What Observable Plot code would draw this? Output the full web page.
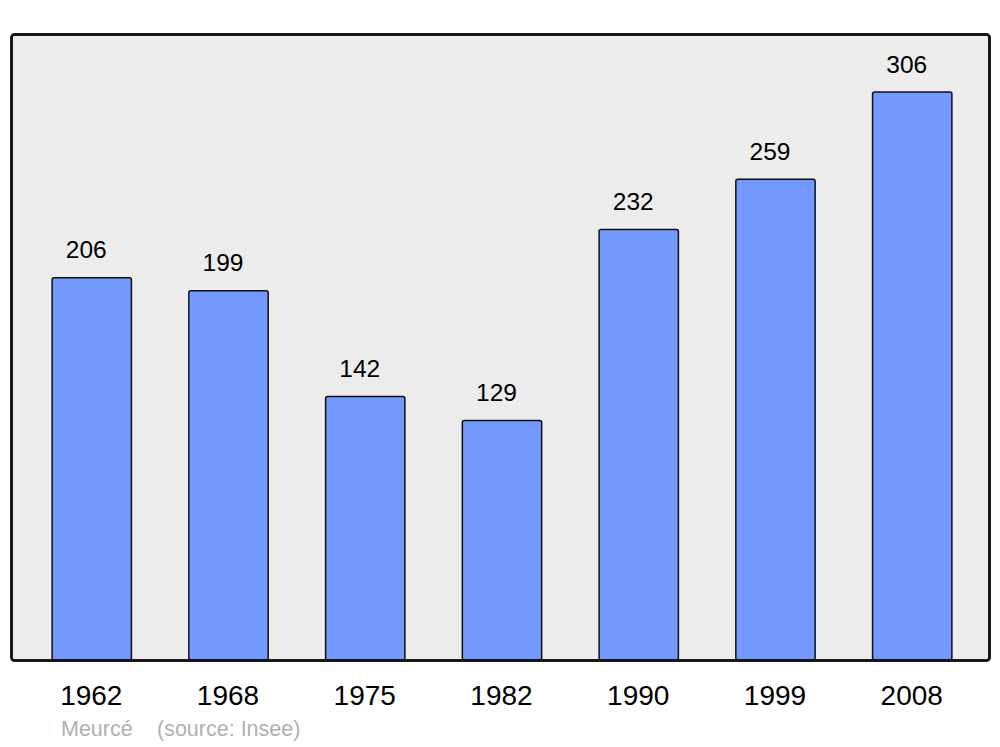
<!DOCTYPE html>
<html><head><meta charset="utf-8">
<script src="https://cdn.jsdelivr.net/npm/d3@7"></script>
<script src="https://cdn.jsdelivr.net/npm/@observablehq/plot@0.6"></script>
<style>
html,body{margin:0;padding:0;background:#fff;}
#wrap{position:relative;width:1000px;height:747px;font-family:"Liberation Sans",Arial,sans-serif;}
.cap{position:absolute;top:717px;font-size:21.5px;color:#b0b0b0;white-space:pre;line-height:24px;}
</style></head>
<body><div id="wrap"><div class="cap" style="left:61px">Meurcé</div><div class="cap" style="left:157px">(source: Insee)</div></div>
<script>
const years = ["1962","1968","1975","1982","1990","1999","2008"];
const population = [206,199,142,129,232,259,306];
const data = years.map((y,i)=>({year:y, pop:population[i]}));

const chart = Plot.plot({
  width: 1000, height: 747,
  marginTop: 34, marginBottom: 87, marginLeft: 11, marginRight: 11,
  style: {fontFamily: '"Liberation Sans", Arial, sans-serif', background: "transparent"},
  x: {domain: years, range: [23.4, 980.6], paddingInner: 0.42, paddingOuter: 0.21, round: false, label: null},
  y: {domain: [0, 337.3], axis: null},
  marks: [
    Plot.frame({fill: "#ececec", stroke: "#111", strokeWidth: 2.5, rx: 3}),
    Plot.barY(data, {x: "year", y: "pop", fill: "#7399ff", stroke: "#111", strokeWidth: 1.5, rx: 2}),
    Plot.text(data, {x: "year", y: "pop", text: d => String(d.pop), dx: -6, dy: -20, lineAnchor: "bottom", fontSize: 24.5, fill: "#000"}),
    Plot.axisX({tickSize: 0, tickPadding: 25, dx: -1, fontSize: 28, color: "#000", label: null}),
    Plot.frame({stroke: "#111", strokeWidth: 2.5, rx: 3})
  ]
});
chart.style.position = "absolute";
chart.style.left = "0"; chart.style.top = "0";
const wrap = document.getElementById("wrap");
wrap.insertBefore(chart, wrap.firstChild);
</script>
</body></html>
